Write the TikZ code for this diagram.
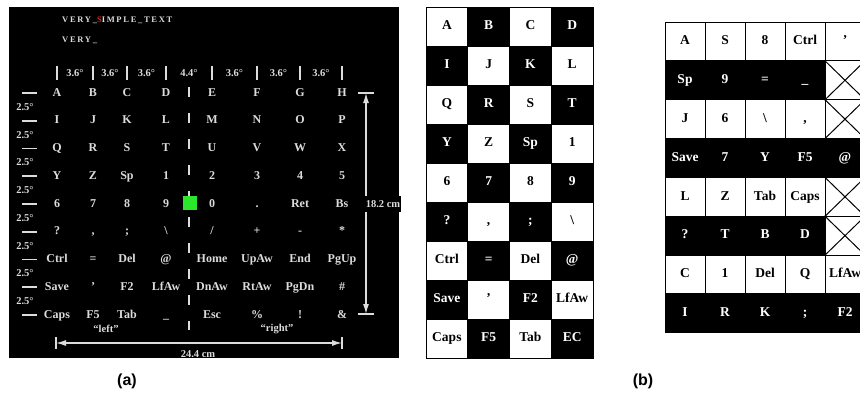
\documentclass[tikz,border=0pt]{standalone}
\usepackage{fontspec}
\setmainfont{Liberation Serif}
\newfontfamily\capfont{Liberation Sans}
\usepackage{xcolor}
\definecolor{keyfg}{HTML}{DCDCDC}
\definecolor{sred}{HTML}{E02424}
\definecolor{cursor}{HTML}{2BE62B}
\usetikzlibrary{arrows.meta,positioning}
\tikzset{
  akey/.style={font=\fontsize{12}{13}\selectfont\bfseries,text=keyfg,inner sep=0pt,text height=8pt,text depth=2pt},
  deg/.style={font=\fontsize{10.5}{11}\selectfont\bfseries,text=keyfg,inner sep=0pt},
  ttl/.style={font=\fontsize{8.5}{10}\selectfont\bfseries\addfontfeatures{LetterSpace=20},text=keyfg,anchor=west,inner sep=0pt},
  wline/.style={draw=keyfg,line width=1.8pt},
  dimarr/.style={{Latex[length=10pt,width=6pt]}-{Latex[length=10pt,width=6pt]},draw=keyfg,line width=1.2pt},
  cell/.style={draw=black,line width=0.7pt,minimum width=41.75pt,minimum height=39pt,inner sep=0pt,text height=9pt,text depth=2.5pt,font=\fontsize{13.5}{14}\selectfont\bfseries},
  gsize/.style={line width=1pt,minimum width=40pt,minimum height=38.85pt},
  caption/.style={font=\capfont\fontsize{16}{18}\selectfont\bfseries},
}
\begin{document}
\begin{tikzpicture}[x=1pt,y=-1pt]
\useasboundingbox[fill=white] (0,0) rectangle (860,405);
\fill[black] (9,7) rectangle (399,358);
\node[ttl] (ttl) at (62,20) {VERY\_\textcolor{sred}{S}IMPLE\_TEXT};
\node[ttl] (typed) at (62,40) {VERY\_};
\draw[wline,line width=2.2pt,dash pattern=on 10pt off 16pt] (189,87) -- (189,330);
\foreach \keys [count=\r from 0] in {
  {A,B,C,D,E,F,G,H},
  {I,J,K,L,M,N,O,P},
  {Q,R,S,T,U,V,W,X},
  {Y,Z,Sp,1,2,3,4,5},
  {6,7,8,9,0,.,Ret,Bs},
  {?,{,},;,\textbackslash,{/},+,-,*},
  {Ctrl,=,Del,@,Home,UpAw,End,PgUp},
  {Save,',F2,LfAw,DnAw,RtAw,PgDn,\#},
  {Caps,F5,Tab,\_,Esc,\%,!,\&}}
  \foreach \k [count=\c from 0] in \keys {
    \pgfmathsetmacro\kx{{57,93,127,166,212,257,300,342}[\c]}
    \node[akey] (a-\r-\c) at (\kx,93+27.75*\r) {\k};
  }
\foreach \x in {57,93,127,166,212,257,300,342}
  \draw[wline] (\x,66) -- (\x,80);
\foreach \x/\d [count=\i] in {75/3.6,110/3.6,146.5/3.6,189/4.4,234.5/3.6,278.5/3.6,321/3.6}
  \node[deg] (deg-\i) at (\x,73) {\d°};
\foreach \r in {0,...,8}
  \draw[wline] (22,93+27.75*\r) -- (37,93+27.75*\r);
\foreach \r in {0,...,7}
  \node[deg] (sp-\r) at (25,107+27.75*\r) {2.5°};
\node[fill=cursor,minimum size=14pt,inner sep=0pt] (cur) at (190,203) {};
\node[deg] (lft) at (106,329) {``left''};
\node[deg] (rgt) at (277,329) {``right''};
\coordinate (hl) at (56,343);
\coordinate (hr) at (342,343);
\draw[dimarr] (hl) -- (hr);
\draw[wline] ([yshift=-6pt]hl) -- ([yshift=6pt]hl);
\draw[wline] ([yshift=-6pt]hr) -- ([yshift=6pt]hr);
\node[deg] (wd) at (198,354) {24.4 cm};
\coordinate (vt) at (366,93);
\coordinate (vb) at (366,314);
\draw[dimarr] (vt) -- (vb);
\draw[wline] ([xshift=-8pt]vt) -- ([xshift=8pt]vt);
\draw[wline] ([xshift=-8pt]vb) -- ([xshift=8pt]vb);
\node[deg,fill=black,inner xsep=1pt,inner ysep=4pt] (ht) at (383,204) {18.2 cm};
\foreach \keys [count=\r from 0] in {
  {A,B,C,D},{I,J,K,L},{Q,R,S,T},{Y,Z,Sp,1},{6,7,8,9},
  {?,{,},;,\textbackslash},{Ctrl,=,Del,@},{Save,',F2,LfAw},{Caps,F5,Tab,EC}}
  \foreach \k [count=\c from 0] in \keys {
    \ifodd\numexpr\r+\c\relax \def\bg{black}\def\fg{white}\else \def\bg{white}\def\fg{black}\fi
    \node[cell,fill=\bg,text=\fg] (b-\r-\c) at ({426+41.75*(\c+0.5)},{7+39*(\r+0.5)}) {\k};
  }
\foreach \keys [count=\r from 0] in {
  {A,S,8,Ctrl,'},{Sp,9,=,\_,{}},{J,6,\textbackslash,{,},{}},{Save,7,Y,F5,@},
  {L,Z,Tab,Caps,{}},{?,T,B,D,{}},{C,1,Del,Q,LfAw},{I,R,K,;,F2}}
  \foreach \k [count=\c from 0] in \keys {
    \ifodd\r \def\bg{black}\def\fg{white}\else \def\bg{white}\def\fg{black}\fi
    \node[cell,gsize,fill=\bg,text=\fg] (g-\r-\c) at ({665+40*(\c+0.5)},{22+38.85*(\r+0.5)}) {\k};
  }
\foreach \r in {1,2,4,5} {
  \node[cell,gsize,fill=white] (x-\r) at (g-\r-4) {};
  \draw[line width=1pt] (x-\r.north west) -- (x-\r.south east) (x-\r.north east) -- (x-\r.south west);
}
\node[caption] (capa) at (127,381) {(a)};
\node[caption] (capb) at (643,381) {(b)};
\end{tikzpicture}
\end{document}
